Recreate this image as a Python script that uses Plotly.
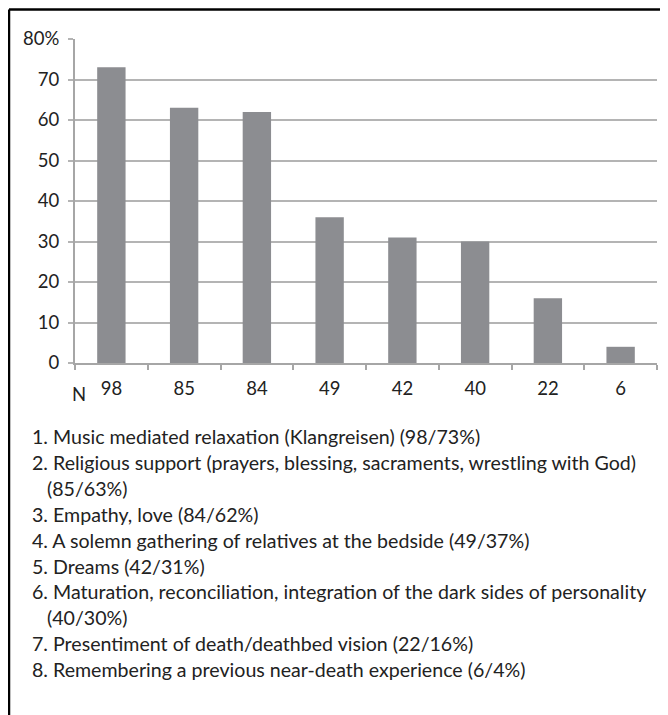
import plotly.graph_objects as go

categories = ["98", "85", "84", "49", "42", "40", "22", "6"]
values = [73, 63, 62, 36, 31, 30, 16, 4]
y_ticks = [0, 10, 20, 30, 40, 50, 60, 70, 80]
y_tick_labels = ["0", "10", "20", "30", "40", "50", "60", "70", "80%"]
legend_lines = [
    "1. Music mediated relaxation (Klangreisen) (98/73%)",
    "2. Religious support (prayers, blessing, sacraments, wrestling with God)",
    "    (85/63%)",
    "3. Empathy, love (84/62%)",
    "4. A solemn gathering of relatives at the bedside (49/37%)",
    "5. Dreams (42/31%)",
    "6. Maturation, reconciliation, integration of the dark sides of personality",
    "    (40/30%)",
    "7. Presentiment of death/deathbed vision (22/16%)",
    "8. Remembering a previous near-death experience (6/4%)",
]

# page body has an 8px margin; layout positions below are in figure pixels
W, H = 668, 715
L, R, T, B = 67, 19, 31, 360
pw = W - L - R
ph = H - T - B

def px_x(x):
    return (x - L) / pw

def px_y(y):
    return (H - B - y) / ph

FONT = "Lato"
TXT = "#222222"
fig = go.Figure(go.Bar(x=categories, y=values, marker=dict(color="#8c8d91", line=dict(width=0)),
                       width=0.39))

fig.update_layout(
    width=W, height=H,
    margin=dict(l=L, r=R, t=T, b=B, autoexpand=False),
    plot_bgcolor="white", paper_bgcolor="white",
    showlegend=False,
    font=dict(family=FONT, color=TXT, size=16),
    xaxis=dict(type="category", showline=True, linecolor="#a6a6a6", linewidth=2,
               ticks="outside", tickson="boundaries", ticklen=5, tickcolor="#a6a6a6", tickwidth=1.5,
               showgrid=False, ticklabelstandoff=8,
               tickfont=dict(size=18.5, family=FONT, color=TXT)),
    yaxis=dict(range=[0, 80], tickvals=y_ticks, ticktext=y_tick_labels, showline=True,
               linecolor="#a6a6a6", linewidth=2, ticks="outside", ticklen=5, tickcolor="#b4b4b4",
               tickwidth=1.5, showgrid=True, gridcolor="#b4b4b4", gridwidth=1.5, zeroline=False,
               ticklabelstandoff=5,
               tickfont=dict(size=18.5, family=FONT, color=TXT)),
)

annotations = [dict(text="N", x=px_x(62), y=px_y(386), xref="paper", yref="paper",
                    xanchor="left", yanchor="middle", showarrow=False,
                    font=dict(size=18.5, family=FONT, color=TXT))]
y0 = 429
step = 25.8
for i, line in enumerate(legend_lines):
    xpos = 22
    txt = line
    if line.startswith("    "):
        xpos = 37
        txt = line.strip()
    annotations.append(dict(text=txt, x=px_x(xpos), y=px_y(y0 + i * step), xref="paper", yref="paper",
                            xanchor="left", yanchor="middle", showarrow=False,
                            font=dict(size=19.6, family=FONT, color=TXT)))
fig.update_layout(annotations=annotations)

fig.add_shape(type="line", xref="paper", yref="paper", x0=px_x(1), x1=px_x(W + 5),
              y0=px_y(1.5), y1=px_y(1.5), line=dict(color="black", width=2.5))
fig.add_shape(type="line", xref="paper", yref="paper", x0=px_x(1), x1=px_x(1),
              y0=px_y(1.5), y1=px_y(H + 5), line=dict(color="black", width=2.5))

fig.write_html("out.html")
